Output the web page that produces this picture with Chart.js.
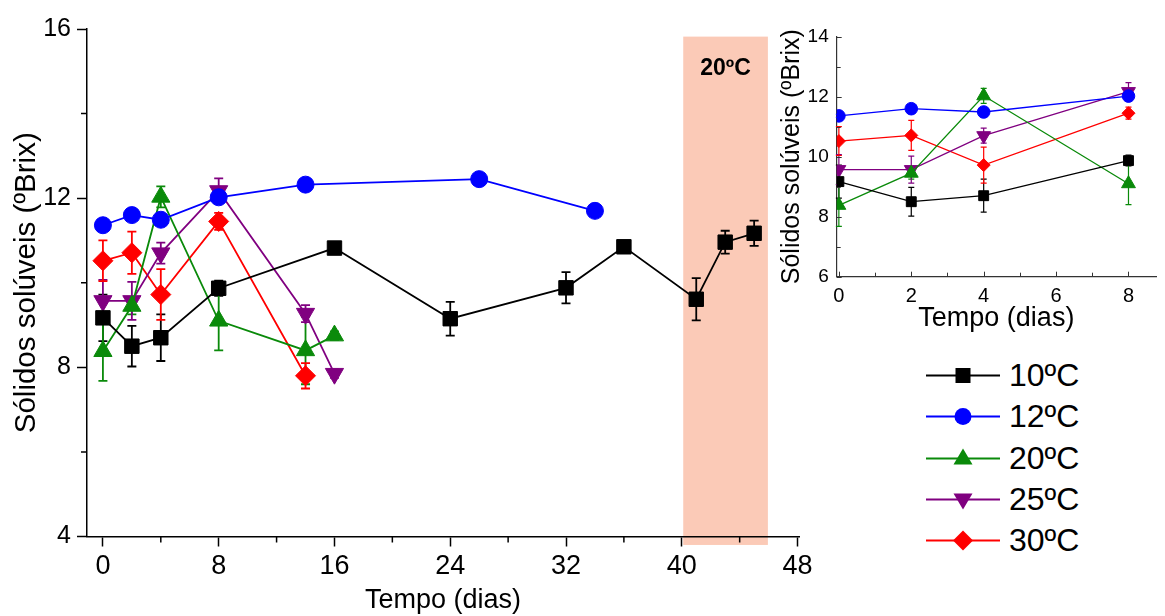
<!DOCTYPE html>
<html>
<head>
<meta charset="utf-8">
<script src="https://cdn.jsdelivr.net/npm/chart.js@4.4.1/dist/chart.umd.min.js"></script>
<style>
body { margin: 0; background: #fff; width: 1165px; height: 616px; overflow: hidden; position: relative; font-family: "Liberation Sans", Arial, sans-serif; }
#main { position: absolute; left: 0; top: 0; }
#inset { position: absolute; left: 760px; top: 0; }
#legend { position: absolute; left: 920px; top: 355px; }
.row { height: 41.3px; display: flex; align-items: center; font-size: 32px; color: #000; }
.row svg { margin-right: 5px; }
</style>
</head>
<body>
<canvas id="main" width="820" height="616"></canvas>
<canvas id="inset" width="405" height="340"></canvas>
<div id="legend"></div>
<script>
const labels = ['10ºC', '12ºC', '20ºC', '25ºC', '30ºC'];

const days10 = [0, 2, 4, 8, 16, 24, 32, 36, 41, 43, 45];
const brix10 = [9.17, 8.5, 8.7, 9.87, 10.82, 9.15, 9.88, 10.85, 9.61, 10.96, 11.17];
const err10 = [0.55, 0.48, 0.55, 0.18, 0.12, 0.4, 0.37, 0.08, 0.5, 0.27, 0.3];

const days12 = [0, 2, 4, 8, 14, 26, 34];
const brix12 = [11.36, 11.6, 11.49, 12.02, 12.32, 12.45, 11.7];
const err12 = [0.05, 0.05, 0.05, 0.05, 0.05, 0.05, 0.05];

const days20 = [0, 2, 4, 8, 14, 16];
const brix20 = [8.38, 9.45, 12.03, 9.1, 8.4, 8.75];
const err20 = [0.7, 0.2, 0.25, 0.7, 0.8, 0.1];

const days25 = [0, 2, 4, 8, 14, 16];
const brix25 = [9.57, 9.57, 10.7, 12.17, 9.27, 7.85];
const err25 = [0.5, 0.45, 0.25, 0.3, 0.2, 0.1];

const days30 = [0, 2, 4, 8, 14];
const brix30 = [10.52, 10.71, 9.72, 11.45, 7.8];
const err30 = [0.48, 0.5, 0.6, 0.2, 0.3];

// period stored at 20ºC (days) and its label
const shadeDays = [40.1, 45.95];
const shadeLabel = '20ºC';

const xTicksMain = [0, 4, 8, 12, 16, 20, 24, 28, 32, 36, 40, 44, 48];
const xLabelsMain = ['0', '', '8', '', '16', '', '24', '', '32', '', '40', '', '48'];
const yTicksMain = [4, 6, 8, 10, 12, 14, 16];
const yLabelsMain = ['4', '', '8', '', '12', '', '16'];

const xTicksInset = [0, 1, 2, 3, 4, 5, 6, 7, 8];
const xLabelsInset = ['0', '', '2', '', '4', '', '6', '', '8'];
const yTicksInset = [6, 7, 8, 9, 10, 11, 12, 13, 14];
const yLabelsInset = ['6', '', '8', '', '10', '', '12', '', '14'];

const colors = ['#000000', '#0000ff', '#0a8a0a', '#800080', '#ff0000'];
const styles = ['rect', 'circle', 'triangle', 'triangle', 'rectRot'];
const rotations = [0, 0, 0, 180, 0];
const series = [
    [days10, brix10, err10],
    [days12, brix12, err12],
    [days20, brix20, err20],
    [days25, brix25, err25],
    [days30, brix30, err30]
];

const FONT = '"Liberation Sans", Arial, sans-serif';
const NARROW = '"Liberation Sans Narrow", "Liberation Sans", Arial, sans-serif';

function makeDatasets(maxDay, radii, lw) {
    return series.map((s, i) => {
        const pts = [], errs = [];
        s[0].forEach((d, j) => {
            if (d <= maxDay) { pts.push({ x: d, y: s[1][j] }); errs.push(s[2][j]); }
        });
        return {
            label: labels[i],
            data: pts,
            errors: errs,
            showLine: true,
            borderColor: colors[i],
            backgroundColor: colors[i],
            borderWidth: lw,
            pointStyle: styles[i],
            rotation: rotations[i],
            pointRadius: radii[i],
            pointBorderWidth: 1,
            pointHoverRadius: radii[i]
        };
    });
}

const errorBars = {
    id: 'errorBars',
    beforeDatasetsDraw(chart, args, opts) {
        const ctx = chart.ctx, xs = chart.scales.x, ys = chart.scales.y;
        ctx.save();
        chart.data.datasets.forEach(ds => {
            ctx.strokeStyle = ds.borderColor;
            ctx.lineWidth = opts.width;
            ds.data.forEach((p, j) => {
                const e = ds.errors[j];
                const px = xs.getPixelForValue(p.x);
                const y1 = ys.getPixelForValue(p.y + e), y2 = ys.getPixelForValue(p.y - e);
                ctx.beginPath();
                ctx.moveTo(px, y1); ctx.lineTo(px, y2);
                ctx.moveTo(px - opts.cap, y1); ctx.lineTo(px + opts.cap, y1);
                ctx.moveTo(px - opts.cap, y2); ctx.lineTo(px + opts.cap, y2);
                ctx.stroke();
            });
        });
        ctx.restore();
    }
};

const shade = {
    id: 'shade',
    beforeDraw(chart) {
        const ctx = chart.ctx, xs = chart.scales.x, ys = chart.scales.y;
        const x1 = xs.getPixelForValue(shadeDays[0]), x2 = xs.getPixelForValue(shadeDays[1]);
        const top = ys.getPixelForValue(15.82), bottom = ys.getPixelForValue(3.8);
        ctx.save();
        ctx.fillStyle = '#fbcab7';
        ctx.fillRect(x1, top, x2 - x1, bottom - top);
        ctx.fillStyle = '#000';
        ctx.font = 'bold 23px ' + FONT;
        ctx.textAlign = 'center';
        ctx.textBaseline = 'middle';
        ctx.fillText(shadeLabel, (x1 + x2) / 2, top + 32);
        ctx.restore();
    }
};

// short outward ticks for the unlabelled (minor) positions of the main chart
const minorTicks = {
    id: 'minorTicks',
    afterDraw(chart) {
        const ctx = chart.ctx, xs = chart.scales.x, ys = chart.scales.y, a = chart.chartArea;
        ctx.save();
        ctx.strokeStyle = '#000';
        ctx.lineWidth = 1.5;
        ctx.beginPath();
        xTicksMain.forEach((v, i) => {
            if (xLabelsMain[i]) return;
            const px = xs.getPixelForValue(v);
            ctx.moveTo(px, a.bottom); ctx.lineTo(px, a.bottom + 6);
        });
        yTicksMain.forEach((v, i) => {
            if (yLabelsMain[i]) return;
            const py = ys.getPixelForValue(v);
            ctx.moveTo(a.left, py); ctx.lineTo(a.left - 6, py);
        });
        ctx.stroke();
        ctx.restore();
    }
};

const innerTicks = {
    id: 'innerTicks',
    afterDraw(chart) {
        const ctx = chart.ctx, xs = chart.scales.x, ys = chart.scales.y, a = chart.chartArea;
        ctx.save();
        ctx.strokeStyle = '#333';
        ctx.lineWidth = 1;
        ctx.beginPath();
        xTicksInset.forEach((v, i) => {
            const px = Math.round(xs.getPixelForValue(v)) + 0.5;
            const len = xLabelsInset[i] ? 5 : 4;
            ctx.moveTo(px, a.bottom); ctx.lineTo(px, a.bottom - len);
        });
        yTicksInset.forEach((v, i) => {
            const py = Math.round(ys.getPixelForValue(v)) + 0.5;
            const len = yLabelsInset[i] ? 5 : 4;
            ctx.moveTo(a.left, py); ctx.lineTo(a.left + len, py);
        });
        ctx.stroke();
        ctx.restore();
    }
};

function fixedTicks(values) {
    return scale => { scale.ticks = values.map(v => ({ value: v })); };
}

const majorOnly = list => c => (list[c.index] ? '#000' : 'rgba(0,0,0,0)');

new Chart(document.getElementById('main'), {
    type: 'scatter',
    data: { datasets: makeDatasets(99, [10.2, 8.5, 10.5, 10.5, 10], 1.8) },
    options: {
        responsive: false,
        animation: false,
        events: [],
        layout: { padding: { top: 29, right: 21, left: 0, bottom: 0 } },
        plugins: { legend: { display: false }, tooltip: { enabled: false }, errorBars: { width: 1.8, cap: 4.5 } },
        scales: {
            x: {
                type: 'linear', min: -1.1, max: 48.1,
                afterBuildTicks: fixedTicks(xTicksMain),
                afterFit: s => { s.height = 79.5; },
                border: { color: '#000', width: 1.5 },
                grid: { drawOnChartArea: false, tickLength: 10, tickColor: majorOnly(xLabelsMain), tickWidth: 1.5 },
                ticks: { color: '#000', padding: 3.5, maxRotation: 0, autoSkip: false, font: { family: NARROW, size: 27 },
                    callback: (v, i) => xLabelsMain[i] },
                title: { display: true, text: 'Tempo (dias)', color: '#000', padding: { top: 0, bottom: 2 }, font: { family: FONT, size: 27, lineHeight: 1.0 } }
            },
            y: {
                type: 'linear', min: 4, max: 16,
                afterBuildTicks: fixedTicks(yTicksMain),
                afterFit: s => { s.width = 87; },
                border: { color: '#000', width: 1.5 },
                grid: { drawOnChartArea: false, tickLength: 10, tickColor: majorOnly(yLabelsMain), tickWidth: 1.5 },
                ticks: { color: '#000', padding: 6, autoSkip: false, font: { family: FONT, size: 25 },
                    callback: (v, i) => yLabelsMain[i] },
                title: { display: true, text: 'Sólidos solúveis (ºBrix)', color: '#000', padding: { top: 9, bottom: 0 }, font: { family: FONT, size: 29.5 } }
            }
        }
    },
    plugins: [shade, errorBars, minorTicks]
});

new Chart(document.getElementById('inset'), {
    type: 'scatter',
    data: { datasets: makeDatasets(8, [7, 6.3, 8, 8, 6.5], 1.3) },
    options: {
        responsive: false,
        animation: false,
        events: [],
        layout: { padding: { top: 36.7, right: 0, left: 0, bottom: 0 } },
        plugins: { legend: { display: false }, tooltip: { enabled: false }, errorBars: { width: 1.2, cap: 3 } },
        scales: {
            x: {
                type: 'linear', min: -0.06, max: 8.76,
                afterBuildTicks: fixedTicks(xTicksInset),
                afterFit: s => { s.height = 63.3; },
                border: { color: '#333', width: 1.2 },
                grid: { drawOnChartArea: false, drawTicks: false },
                ticks: { color: '#000', padding: 8, maxRotation: 0, autoSkip: false, font: { family: FONT, size: 20 },
                    callback: (v, i) => xLabelsInset[i] },
                title: { display: true, text: 'Tempo (dias)', color: '#000', padding: { top: 0, bottom: 5 }, font: { family: FONT, size: 27, lineHeight: 1.2 } }
            },
            y: {
                type: 'linear', min: 6, max: 14,
                afterBuildTicks: fixedTicks(yTicksInset),
                afterFit: s => { s.width = 76.7; },
                border: { color: '#333', width: 1.2 },
                grid: { drawOnChartArea: false, drawTicks: false },
                ticks: { color: '#000', padding: 8, autoSkip: false, font: { family: FONT, size: 19 },
                    callback: (v, i) => yLabelsInset[i] },
                title: { display: true, text: 'Sólidos solúveis (ºBrix)', color: '#000', padding: { top: 17, bottom: 0 }, font: { family: FONT, size: 25 } }
            }
        }
    },
    plugins: [errorBars, innerTicks]
});

// legend: line with marker, then label
function markerSvg(i) {
    const c = colors[i], cx = 43, cy = 20.5;
    let m = '';
    if (styles[i] === 'rect') m = `<rect x="${cx - 7.5}" y="${cy - 7.5}" width="15" height="15" fill="${c}"/>`;
    else if (styles[i] === 'circle') m = `<circle cx="${cx}" cy="${cy}" r="8.5" fill="${c}"/>`;
    else if (rotations[i] === 180) m = `<polygon points="${cx - 9.5},${cy - 6} ${cx + 9.5},${cy - 6} ${cx},${cy + 10}" fill="${c}"/>`;
    else if (styles[i] === 'triangle') m = `<polygon points="${cx - 9.5},${cy + 6} ${cx + 9.5},${cy + 6} ${cx},${cy - 10}" fill="${c}"/>`;
    else m = `<polygon points="${cx - 10},${cy} ${cx},${cy - 10} ${cx + 10},${cy} ${cx},${cy + 10}" fill="${c}"/>`;
    return `<svg width="84" height="41" viewBox="0 0 84 41"><line x1="6" y1="${cy}" x2="80" y2="${cy}" stroke="${c}" stroke-width="1.8"/>${m}</svg>`;
}
document.getElementById('legend').innerHTML = labels.map((t, i) =>
    `<div class="row">${markerSvg(i)}<span>${t}</span></div>`).join('');
</script>
</body>
</html>
